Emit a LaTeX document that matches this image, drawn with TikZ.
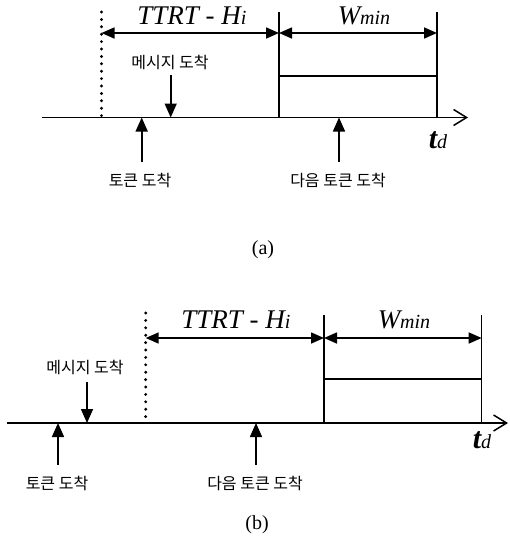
\documentclass[tikz,border=0pt]{standalone}
\usepackage{fontspec}
\setmainfont{Liberation Serif}
\newfontfamily\kor{Noto Sans CJK KR}
\usetikzlibrary{arrows.meta}
\tikzset{
  axisline/.style={line width=1.6pt,-{Straight Barb[length=13pt,width=16pt,line width=1.5pt]}},
  plain/.style={line width=1.5pt},
  dotline/.style={line width=3.2pt,line cap=round,dash pattern=on 0pt off 7.4pt},
  dimarr/.style={line width=1.6pt,{Triangle[length=13pt,width=11pt]}-{Triangle[length=13pt,width=11pt]}},
  markarr/.style={line width=1.6pt,-{Triangle[length=14pt,width=12pt]}},
  kor/.style={font=\kor\fontsize{16}{16}\selectfont,inner sep=0pt},
  big/.style={font=\itshape\fontsize{27}{27}\selectfont,inner sep=0pt,anchor=base},
  captext/.style={font=\fontsize{20}{20}\selectfont,inner sep=0pt}
}
\newcommand{\sml}[1]{{\fontsize{20}{20}\selectfont #1}}
\newcommand{\tbig}{{\bfseries\fontsize{30}{30}\selectfont t}}
\begin{document}
\begin{tikzpicture}[x=1pt,y=-1pt]
\useasboundingbox (0,0) rectangle (510,541);
% ---------- panel (a) ----------
\coordinate (aL) at (42,117.5);
\coordinate (aR) at (468,117.5);
\coordinate (aDt) at (101.5,12); \coordinate (aDb) at (101.5,117.5);
\coordinate (aV1t) at (279,12); \coordinate (aV1b) at (279,117.5);
\coordinate (aV2t) at (437,12); \coordinate (aV2b) at (437,117.5);
\coordinate (aD1) at (101.5,33); \coordinate (aD2) at (279,33); \coordinate (aD3) at (437,33);
\coordinate (aM1) at (279,76); \coordinate (aM2) at (437,76);
\coordinate (aMsgT) at (170.7,75); \coordinate (aMsgB) at (170.7,117.5);
\coordinate (aTokT) at (141.7,117.5); \coordinate (aTokB) at (141.7,162);
\coordinate (aNxtT) at (339,117.5); \coordinate (aNxtB) at (339,162);
\draw[axisline] (aL) -- (aR);
\draw[dotline] (aDt) -- (aDb);
\draw[plain] (aV1t) -- (aV1b);
\draw[plain] (aV2t) -- (aV2b);
\draw[plain] (aM1) -- (aM2);
\draw[dimarr] (aD1) -- (aD2);
\draw[dimarr] (aD2) -- (aD3);
\draw[markarr] (aMsgT) -- (aMsgB);
\draw[markarr] (aTokB) -- (aTokT);
\draw[markarr] (aNxtB) -- (aNxtT);
\node[big] (aTTRT) at (192,24) {TTRT - H\sml{i}};
\node[big] (aW) at (364,24) {W\sml{min}};
\node[big] (aTd) at (438,148) {\tbig\sml{d}};
\node[kor] (aMsg) at (170,62) {메시지 도착};
\node[kor] (aTok) at (140,180) {토큰 도착};
\node[kor] (aNxt) at (338,180) {다음 토큰 도착};
\node[captext] (aCap) at (263,250) {(a)};
% ---------- panel (b) ----------
\coordinate (bL) at (7,423);
\coordinate (bR) at (508,423);
\coordinate (bDt) at (145.7,313); \coordinate (bDb) at (145.7,423);
\coordinate (bV1t) at (324,315); \coordinate (bV1b) at (324,423);
\coordinate (bV2t) at (481.7,315); \coordinate (bV2b) at (481.7,423);
\coordinate (bD1) at (145.7,338); \coordinate (bD2) at (324,338); \coordinate (bD3) at (481.7,338);
\coordinate (bM1) at (324,379); \coordinate (bM2) at (481.7,379);
\coordinate (bMsgT) at (87,382); \coordinate (bMsgB) at (87,423);
\coordinate (bTokT) at (58,423); \coordinate (bTokB) at (58,465);
\coordinate (bNxtT) at (256,423); \coordinate (bNxtB) at (256,465);
\draw[axisline] (bL) -- (bR);
\draw[dotline] (bDt) -- (bDb);
\draw[plain] (bV1t) -- (bV1b);
\draw[plain] (bV2t) -- (bV2b);
\draw[plain] (bM1) -- (bM2);
\draw[dimarr] (bD1) -- (bD2);
\draw[dimarr] (bD2) -- (bD3);
\draw[markarr] (bMsgT) -- (bMsgB);
\draw[markarr] (bTokB) -- (bTokT);
\draw[markarr] (bNxtB) -- (bNxtT);
\node[big] (bTTRT) at (236,328) {TTRT - H\sml{i}};
\node[big] (bW) at (404,328) {W\sml{min}};
\node[big] (bTd) at (482,448) {\tbig\sml{d}};
\node[kor] (bMsg) at (85,367) {메시지 도착};
\node[kor] (bTok) at (57,483) {토큰 도착};
\node[kor] (bNxt) at (255,483) {다음 토큰 도착};
\node[captext] (bCap) at (257,525) {(b)};
\end{tikzpicture}
\end{document}
